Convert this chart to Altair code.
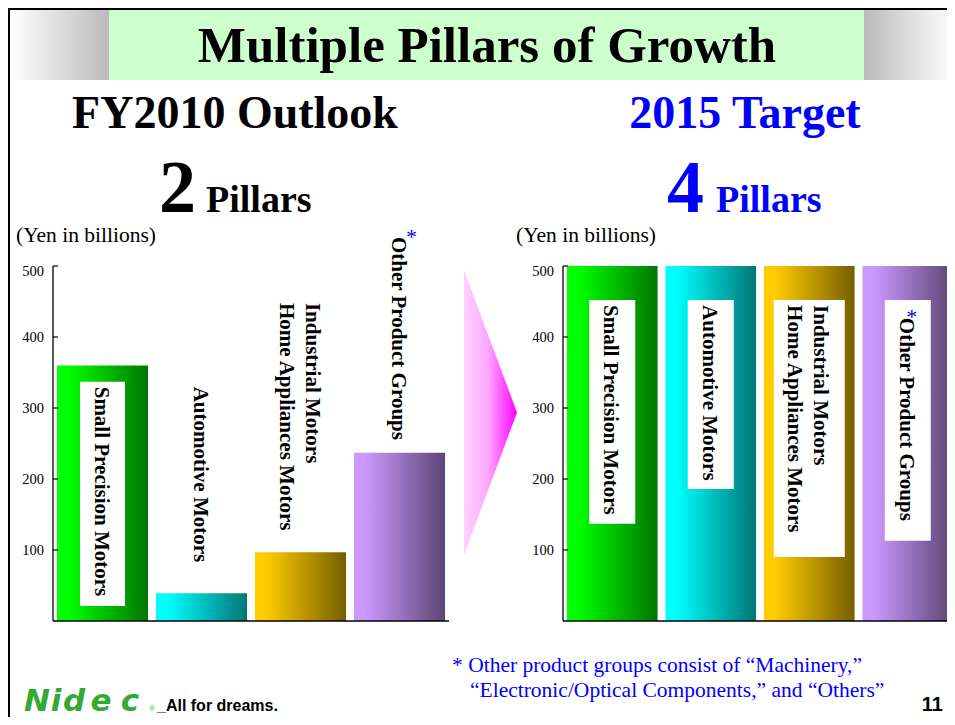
import altair as alt
import pandas as pd

# ---------------- data ----------------
categories = ["Small Precision Motors", "Automotive Motors",
              "Industrial Motors / Home Appliances Motors", "Other Product Groups"]
bar_labels = ["Small Precision Motors", "Automotive Motors",
              "Industrial Motors\nHome Appliances Motors", "Other Product Groups"]
fy2010_values = [360, 39, 97, 237]
target2015_values = [500, 500, 500, 500]
y_ticks = [100, 200, 300, 400, 500]
footnote_lines = ["* Other product groups consist of \u201cMachinery,\u201d",
                  "\u201cElectronic/Optical Components,\u201d and \u201cOthers\u201d"]

# ---------------- layout / style ----------------
W, H = 939, 709
Y0, Y500 = 613, 258
bar_colors = [("#00FF00", "#007600"), ("#00FFFF", "#007676"),
              ("#FFCC00", "#765E00"), ("#CC99FF", "#5C4574")]
SERIF = "Liberation Serif, Times New Roman, Tinos, Times, DejaVu Serif, serif"
BLUE = "#0000FF"


def grad(c0, c1, mid=0.12):
    return alt.Gradient(gradient="linear", x1=0, x2=1, y1=0, y2=0,
                        stops=[alt.GradientStop(offset=0, color=c0),
                               alt.GradientStop(offset=mid, color=c0),
                               alt.GradientStop(offset=1, color=c1)])


def panel(values, x_range, label_y, box_top, box_bottom, box_show, box_w, star_y, star_dx):
    df = pd.DataFrame({"cat": categories, "value": values, "label": bar_labels,
                       "label_y": label_y, "box_top": box_top, "box_bottom": box_bottom,
                       "star_y": star_y,
                       "lines": [lab.count("\n") + 1 for lab in bar_labels]})
    xs = alt.Scale(domain=categories, range=x_range, paddingInner=0.08, paddingOuter=0.04)
    ys = alt.Scale(domain=[0, 500], range=[Y0, Y500], nice=False, zero=False)
    xb = alt.X("cat:N", scale=xs, axis=None)
    x0 = x_range[0]
    base = alt.Chart(df)
    layers = []
    # gradient bars
    for cat, (c0, c1) in zip(categories, bar_colors):
        layers.append(base.transform_filter(alt.datum.cat == cat)
                      .mark_bar(fill=grad(c0, c1), strokeWidth=0)
                      .encode(x=xb, y=alt.Y("value:Q", scale=ys, axis=None)))
    # white label boxes
    for cat, show, w in zip(categories, box_show, box_w):
        if show:
            layers.append(base.transform_filter(alt.datum.cat == cat)
                          .mark_bar(width=w, fill="white", strokeWidth=0)
                          .encode(x=xb,
                                  y=alt.Y("box_top:Q", scale=ys, axis=None),
                                  y2="box_bottom:Q"))
    # axis: domain lines, inward ticks, labels
    ax = pd.DataFrame({"lo": [0], "hi": [500]})
    layers.append(alt.Chart(ax).mark_rule(color="black", strokeWidth=1.3)
                  .encode(x=alt.value(x0), y=alt.Y("lo:Q", scale=ys, axis=None), y2="hi:Q"))
    layers.append(alt.Chart(ax).mark_rule(color="black", strokeWidth=1.3)
                  .encode(x=alt.value(x0), x2=alt.value(x_range[1]),
                          y=alt.Y("lo:Q", scale=ys, axis=None)))
    tk = pd.DataFrame({"t": y_ticks})
    layers.append(alt.Chart(tk).mark_rule(color="black", strokeWidth=1.2)
                  .encode(x=alt.value(x0), x2=alt.value(x0 + 5),
                          y=alt.Y("t:Q", scale=ys, axis=None)))
    layers.append(alt.Chart(tk).transform_filter(alt.datum.t < 500)
                  .mark_text(align="right", baseline="middle", font=SERIF, fontSize=14.5,
                             color="black", dy=1)
                  .encode(x=alt.value(x0 - 9), y=alt.Y("t:Q", scale=ys, axis=None), text="t:Q"))
    layers.append(alt.Chart(tk).transform_filter(alt.datum.t == 500)
                  .mark_text(align="right", baseline="middle", font=SERIF, fontSize=14.5,
                             color="black", dy=6)
                  .encode(x=alt.value(x0 - 9), y=alt.Y("t:Q", scale=ys, axis=None), text="t:Q"))
    # rotated category labels
    for n_lines, dy in [(1, 2), (2, -11)]:
        layers.append(base.transform_filter(alt.datum.lines == n_lines)
                      .mark_text(angle=90, align="left", baseline="middle", font=SERIF,
                                 fontWeight="bold", fontSize=21, lineBreak="\n",
                                 lineHeight=26, color="black", dy=dy)
                      .encode(x=xb, y=alt.Y("label_y:Q", scale=ys, axis=None),
                              text="label:N"))
    layers.append(base.transform_filter(alt.datum.cat == categories[3])
                  .mark_text(text="*", dx=star_dx, dy=5, color=BLUE, fontSize=22, font=SERIF,
                             align="center", baseline="middle")
                  .encode(x=xb, y=alt.Y("star_y:Q", scale=ys, axis=None)))
    return alt.layer(*layers)


left = panel(fy2010_values, [45, 441],
             label_y=[330, 330, 448, 541],
             box_top=[337, 0, 0, 0], box_bottom=[21, 0, 0, 0],
             box_show=[True, False, False, False], box_w=[45, 45, 71, 45],
             star_y=[548] * 4, star_dx=12)
right = panel(target2015_values, [555, 949],
              label_y=[445, 445, 445, 427],
              box_top=[452, 452, 452, 452], box_bottom=[137, 186, 90, 113],
              box_show=[True, True, True, True], box_w=[46, 46, 71, 46],
              star_y=[435] * 4, star_dx=4)

# ---------------- decorations ----------------
one = pd.DataFrame({"k": [0]})


def text_at(s, x, y, size, color="black", weight="normal", font=SERIF, align="left",
            baseline="alphabetic", style=None):
    mk = dict(text=s, fontSize=size, color=color, fontWeight=weight, font=font,
              align=align, baseline=baseline)
    if style:
        mk["fontStyle"] = style
    return alt.Chart(one).mark_text(**mk).encode(x=alt.value(x), y=alt.value(y))


def rect_at(x, x2, y, y2, fill):
    return alt.Chart(one).mark_rect(fill=fill, strokeWidth=0).encode(
        x=alt.value(x), x2=alt.value(x2), y=alt.value(y), y2=alt.value(y2))


def rule_at(x, x2, y, y2, color, width):
    return alt.Chart(one).mark_rule(color=color, strokeWidth=width).encode(
        x=alt.value(x), x2=alt.value(x2), y=alt.value(y), y2=alt.value(y2))


gray_lr = alt.Gradient(gradient="linear", x1=0, x2=1, y1=0, y2=0,
                       stops=[alt.GradientStop(offset=0, color="#FFFFFF"),
                              alt.GradientStop(offset=1, color="#BBBBBB")])
gray_rl = alt.Gradient(gradient="linear", x1=0, x2=1, y1=0, y2=0,
                       stops=[alt.GradientStop(offset=0, color="#BBBBBB"),
                              alt.GradientStop(offset=1, color="#FFFFFF")])
pink = alt.Gradient(gradient="linear", x1=0, x2=1, y1=0, y2=0,
                    stops=[alt.GradientStop(offset=0, color="#FFD2FF"),
                           alt.GradientStop(offset=0.45, color="#FFA8FF"),
                           alt.GradientStop(offset=1, color="#FF00FF")])

decor = [
    rect_at(2, 101, 1, 72, gray_lr),
    rect_at(101, 856, 1, 72, "#CCFFCC"),
    rect_at(856, 947, 1, 72, gray_rl),
    rule_at(0, W, 0.5, 0.5, "black", 3),
    rule_at(0.5, 0.5, 0, H, "black", 3),
    text_at("Multiple Pillars of Growth", 479, 54, 51, weight="bold", align="center"),
    text_at("FY2010 Outlook", 227, 120, 46, weight="bold", align="center"),
    text_at("2015 Target", 737, 120, 46, weight="bold", align="center", color=BLUE),
    text_at("2", 151, 204, 74, weight="bold"),
    text_at("Pillars", 198, 204, 38, weight="bold"),
    text_at("4", 659, 204, 74, weight="bold", color=BLUE),
    text_at("Pillars", 708, 204, 38, weight="bold", color=BLUE),
    text_at("(Yen in billions)", 8, 234, 21.5),
    text_at("(Yen in billions)", 508, 234, 21.5),
    text_at(footnote_lines[0], 444, 664, 21.5, color=BLUE),
    text_at(footnote_lines[1], 462, 689, 21.5, color=BLUE),
    text_at("11", 935, 703, 20, weight="bold", font="Liberation Sans", align="right"),
    alt.Chart(one).mark_point(shape="M-0.186,-1L0.186,0L-0.186,1Z", size=81225, filled=True,
                              fill=pink, opacity=1, strokeWidth=0)
    .encode(x=alt.value(482.5), y=alt.value(404.5)),
]
logo_letters = ["N", "i", "d", "e", "c"]
logo_x = [29, 48, 66, 93, 122]
for ch, lx in zip(logo_letters, logo_x):
    decor.append(text_at(ch, lx, 703, 31, color="#33AA33", weight="bold",
                         font="DejaVu Sans", align="center", style="italic"))
decor.append(text_at("\u00ae", 141, 703, 8, color="#33AA33"))
decor.append(text_at("_All for dreams.", 149, 703, 16, weight="bold", font="Liberation Sans"))

chart = (alt.layer(*decor, left, right)
         .resolve_scale(x="independent", y="independent")
         .properties(width=W, height=H, autosize=alt.AutoSizeParams(type="none"), padding=0)
         .configure_view(stroke=None)
         .configure(background="white"))

chart.save("out.html", embed_options={"renderer": "svg", "actions": False})
